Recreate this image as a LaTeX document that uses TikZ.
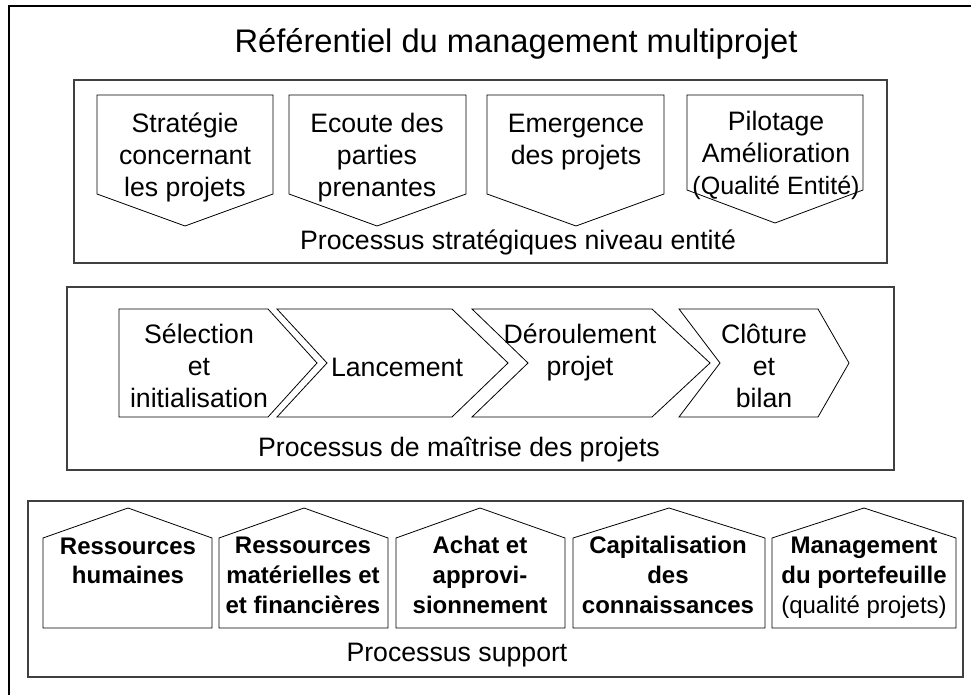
\documentclass[tikz,border=0pt]{standalone}
\usepackage{fontspec}
\setmainfont{Liberation Sans}
\begin{document}
\begin{tikzpicture}[x=0.75pt,y=-0.75pt,
  frameline/.style={line width=1.5pt,black},
  groupbox/.style={draw=black!75,line width=1pt},
  shapeline/.style={draw=black,line width=0.6pt,fill=white},
  bigtxt/.style={font=\fontsize{20}{24}\selectfont,align=center,anchor=base,inner sep=0pt},
  boldtxt/.style={font=\fontsize{18}{22.2}\selectfont\bfseries,align=center,anchor=base,inner sep=0pt},
  labeltxt/.style={font=\fontsize{20}{24}\selectfont,anchor=base,inner sep=0pt},
  titletxt/.style={font=\fontsize{24.5}{29}\selectfont,anchor=base,inner sep=0pt}]
\useasboundingbox (0,0) rectangle (971,695);
% outer frame (top and left edges visible)
\coordinate (fA) at (9,695);
\coordinate (fB) at (9,6);
\coordinate (fC) at (971,6);
\draw[frameline] (fA) -- (fB) -- (fC);
\node[titletxt] (title) at (516,53) {Référentiel du management multiprojet};

% group boxes
\draw[groupbox] (74,80) rectangle (887,263);
\draw[groupbox] (67,287) rectangle (894,470);
\draw[groupbox] (28,501) rectangle (963,677);

% strategic processes (down-pointing pentagons)
\draw[shapeline] (97,95) -- (273,95) -- (273,194) -- (185,226) -- (97,194) -- cycle;
\draw[shapeline] (289,95) -- (466,95) -- (466,194) -- (377,226) -- (289,194) -- cycle;
\draw[shapeline] (487,95) -- (664,95) -- (664,194) -- (576,226) -- (487,194) -- cycle;
\draw[shapeline] (687,95) -- (863,95) -- (863,190) -- (775,223) -- (687,190) -- cycle;
\node[bigtxt] (s1) at (185,197) {Stratégie\\concernant\\les projets};
\node[bigtxt] (s2) at (377,197) {Ecoute des\\parties\\prenantes};
\node[bigtxt] (s3) at (576,165) {Emergence\\des projets};
\node[bigtxt] (s4) at (776,195) {Pilotage\\Amélioration\\{\fontsize{18.8}{24}\selectfont(Qualité Entité)}};
\node[labeltxt] (lab1) at (518,250) {Processus stratégiques niveau entité};

% project control (chevrons)
\draw[shapeline] (119,309) -- (268,309) -- (317,363) -- (268,417) -- (119,417) -- cycle;
\draw[shapeline] (277,309) -- (452,309) -- (508,363) -- (452,417) -- (277,417) -- (327,363) -- cycle;
\draw[shapeline] (472,309) -- (652,309) -- (710,363) -- (652,417) -- (472,417) -- (528,363) -- cycle;
\draw[shapeline] (679,309) -- (818,309) -- (849,363) -- (818,417) -- (679,417) -- (720,363) -- cycle;
\node[bigtxt] (c1) at (199,407) {Sélection\\et\\initialisation};
\node[bigtxt] (c2) at (397,376) {Lancement};
\node[bigtxt] (c3) at (580,375) {Déroulement\\projet};
\node[bigtxt] (c4) at (764,407) {Clôture\\et\\bilan};
\node[labeltxt] (lab2) at (459,456) {Processus de maîtrise des projets};

% support processes (houses)
\draw[shapeline] (43,628) -- (43,538) -- (128,508) -- (212,538) -- (212,628) -- cycle;
\draw[shapeline] (219,628) -- (219,538) -- (304,508) -- (388,538) -- (388,628) -- cycle;
\draw[shapeline] (396,628) -- (396,538) -- (480,508) -- (565,538) -- (565,628) -- cycle;
\draw[shapeline] (573,628) -- (573,538) -- (669,508) -- (765,538) -- (765,628) -- cycle;
\draw[shapeline] (772,628) -- (772,538) -- (864,508) -- (956,538) -- (956,628) -- cycle;
\node[boldtxt] (h1) at (128,583.6) {Ressources\\humaines};
\node[boldtxt] (h2) at (303,613) {Ressources\\matérielles et\\et financières};
\node[boldtxt] (h3) at (480,613) {Achat et\\approvi-\\sionnement};
\node[boldtxt] (h4) at (668,613) {Capitalisation\\des\\connaissances};
\node[boldtxt] (h5) at (864,613) {Management\\du portefeuille\\{\mdseries(qualité projets)}};
\node[labeltxt] (lab3) at (457,661) {Processus support};
\end{tikzpicture}
\end{document}
